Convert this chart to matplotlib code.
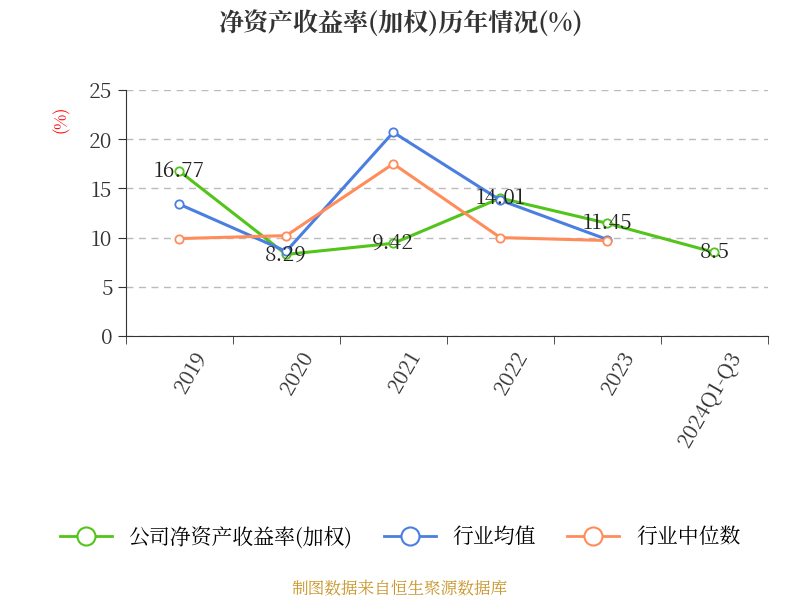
import matplotlib
matplotlib.use("Agg")
import matplotlib.pyplot as plt
from matplotlib import font_manager as fm

cjk = [f.name for f in fm.fontManager.ttflist if "CJK" in f.name or "CJK" in f.fname]
plt.rcParams["font.family"] = "sans-serif"
plt.rcParams["font.sans-serif"] = (cjk[:1] if cjk else []) + ["Noto Sans CJK SC", "DejaVu Sans"]

categories = ["2019", "2020", "2021", "2022", "2023", "2024Q1-Q3"]
company = [16.77, 8.29, 9.42, 14.01, 11.45, 8.5]
industry_avg = [13.4, 8.6, 20.7, 13.8, 9.8]
industry_median = [9.9, 10.2, 17.5, 10.0, 9.7]
yticks = [0, 5, 10, 15, 20, 25]

fig = plt.figure(figsize=(8, 6), dpi=100)
ax = fig.add_axes([0.157, 0.44, 0.803, 0.41])

x = list(range(len(categories)))
ax.plot(x, company, color="#52c41a", lw=2.2, marker="o", ms=6, mfc="white", mew=1.3, zorder=3)
ax.plot(x[:5], industry_avg, color="#4a7ee0", lw=2.2, marker="o", ms=6, mfc="white", mew=1.3, zorder=3)
ax.plot(x[:5], industry_median, color="#ff8c5a", lw=2.2, marker="o", ms=6, mfc="white", mew=1.3, zorder=3)
for xi, v in zip(x, company):
    ax.text(xi, v, f"{v:g}", ha="center", va="center", fontsize=15, color="#222", zorder=4)

ax.set_xlim(-0.5, 5.5)
ax.set_ylim(0, 25)
ax.set_yticks(yticks)
ax.set_xticks([xi + 0.12 for xi in x])
ax.set_xticklabels(categories, rotation=60, ha="right", rotation_mode="anchor", fontsize=15, color="#333")
ax.set_xticks([i - 0.5 for i in range(7)], minor=True)
ax.tick_params(axis="x", which="major", length=0, pad=8)
ax.tick_params(axis="x", which="minor", length=6, color="#333")
ax.tick_params(axis="y", labelsize=15, labelcolor="#333", length=6, color="#333")
ax.grid(axis="y", ls=(0, (5, 4)), color="#bbb", lw=1)
for s in ["top", "right"]:
    ax.spines[s].set_visible(False)
ax.spines["left"].set_color("#333")
ax.spines["bottom"].set_color("#333")
ax.text(-0.1, 0.88, "(%)", transform=ax.transAxes, rotation=90, color="red", fontsize=12, ha="center", va="center")

fig.text(0.5, 0.96, "净资产收益率(加权)历年情况(%)", ha="center", va="center", fontsize=18, fontweight="bold", color="#333")

from matplotlib.lines import Line2D
handles = [Line2D([], [], color=c, lw=2, marker="o", ms=13, mfc="white", mew=1.5)
           for c in ["#52c41a", "#4a7ee0", "#ff8c5a"]]
fig.legend(handles, ["公司净资产收益率(加权)", "行业均值", "行业中位数"], loc="center",
           bbox_to_anchor=(0.5, 0.105), ncol=3, frameon=False, fontsize=15, handlelength=2.5, columnspacing=1.5)
fig.text(0.5, 0.018, "制图数据来自恒生聚源数据库", ha="center", va="center", fontsize=12, color="#c8952a")
fig.savefig("out.png")
